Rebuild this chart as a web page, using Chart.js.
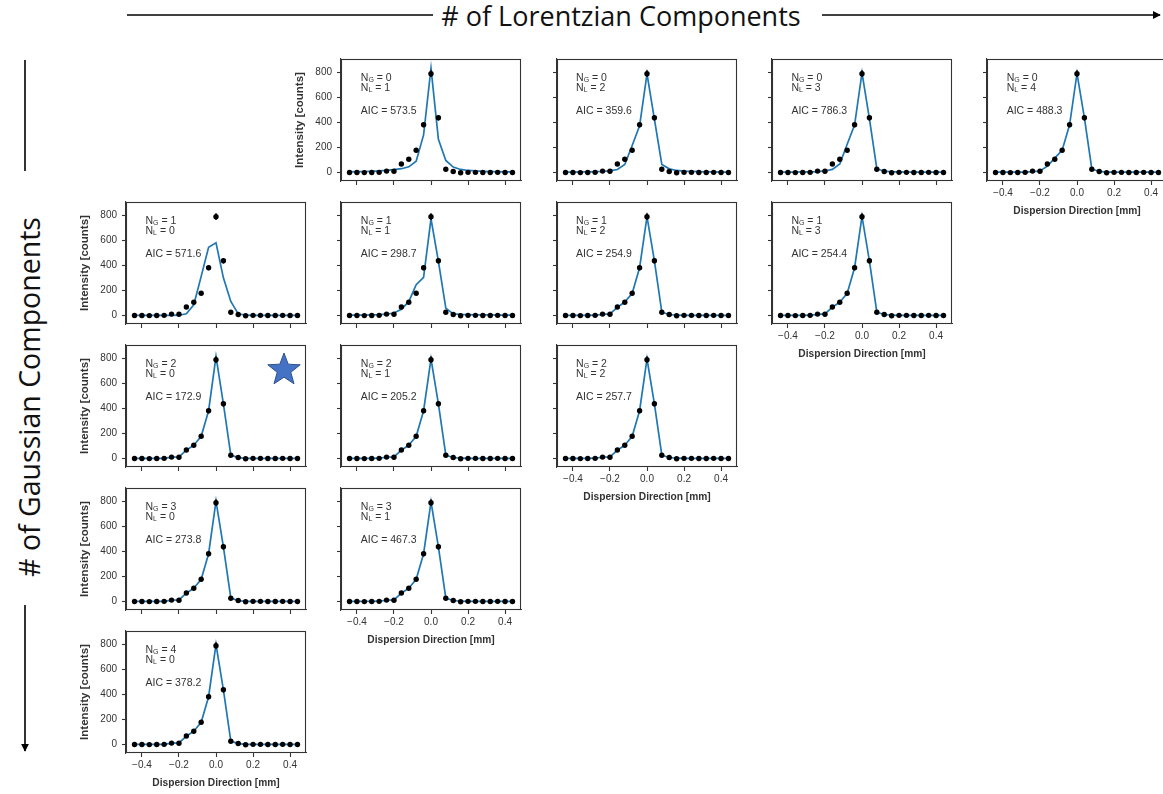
<!DOCTYPE html>
<html>
<head>
<meta charset="utf-8">
<script src="https://cdn.jsdelivr.net/npm/chart.js@4.4.1/dist/chart.umd.min.js"></script>
<style>
  html, body { margin: 0; padding: 0; background: #ffffff; }
  body { width: 1163px; height: 794px; position: relative; overflow: hidden; font-family: "Liberation Sans", Arial, sans-serif; }
  .panel { position: absolute; }
  .panel canvas { display: block; }
  .note { position: absolute; font-size: 10.5px; color: #333333; line-height: 10px; white-space: nowrap; pointer-events: none; }
  .note sub { font-size: 7px; vertical-align: -1px; line-height: 0; }
  .axis-title { position: absolute; font-family: "Open Sans", "Noto Sans", sans-serif; color: #111111; white-space: nowrap; line-height: 1; }
  svg.deco { position: absolute; left: 0; top: 0; pointer-events: none; }
</style>
</head>
<body>
<svg class="deco" width="1163" height="794" viewBox="0 0 1163 794">
  <defs>
    <marker id="arrow" viewBox="0 0 10 10" refX="9" refY="5" markerWidth="5" markerHeight="5" orient="auto">
      <path d="M0,0 L10,5 L0,10 z" fill="#000"/>
    </marker>
  </defs>
  <line x1="127" y1="15" x2="433" y2="15" stroke="#000" stroke-width="1.6"/>
  <line x1="822" y1="15" x2="1160" y2="15" stroke="#000" stroke-width="1.6" marker-end="url(#arrow)"/>
  <line x1="25" y1="60" x2="25" y2="171" stroke="#000" stroke-width="1.6"/>
  <line x1="25" y1="605" x2="25" y2="751" stroke="#000" stroke-width="1.6" marker-end="url(#arrow)"/>
  <polygon id="star" fill="#4472C4" stroke="#2F528F" stroke-width="1"
    points="284,353 288.2,364.2 300.2,364.8 290.8,372.3 294,383.8 284,377.2 274,383.8 277.2,372.3 267.8,364.8 279.8,364.2"/>
</svg>
<div class="axis-title" id="titleTop" style="left:621px; top:15px; font-size:27px; transform: translate(-50%, -50%);"># of Lorentzian Components</div>
<div class="axis-title" id="titleLeft" style="left:29px; top:397px; font-size:28.5px; transform: translate(-50%, -50%) rotate(-90deg);"># of Gaussian Components</div>

<script>
// Sample positions along the dispersion direction [mm]
const dispersionX = [-0.44, -0.40, -0.36, -0.32, -0.28, -0.24, -0.20, -0.16, -0.12, -0.08, -0.04,
                     0.00, 0.04, 0.08, 0.12, 0.16, 0.20, 0.24, 0.28, 0.32, 0.36, 0.40, 0.44];

// Measured intensity [counts] and its uncertainty
const measured = [0, 0, -1, 0, 1, 11, 10, 67, 106, 177, 381, 788, 436, 26, 8, -2, 1, 1, 0, 0, 1, 0, 0];
const measuredErr = [3, 3, 3, 3, 3, 4, 4, 8, 10, 13, 20, 27, 21, 5, 3, 3, 3, 3, 3, 3, 3, 3, 3];

// Best-fit model curves, one per (N_G, N_L) combination
const fitG0L1 = [5, 6, 7, 9, 12, 16, 22, 30, 45, 90, 300, 832, 264, 96, 43, 24, 16, 12, 9, 7, 6, 5, 4];
const fitG0L2 = [3, 3, 4, 5, 6, 8, 13, 24, 64, 215, 372, 786, 425, 64, 29, 16, 11, 8, 6, 5, 4, 3, 3];
const fitG0L3 = [3, 3, 3, 4, 4, 7, 12, 25, 68, 225, 380, 795, 430, 30, 10, 5, 4, 3, 3, 3, 3, 3, 3];
const fitG0L4 = [2, 2, 2, 2, 3, 6, 12, 50, 115, 178, 380, 790, 435, 28, 8, 3, 2, 2, 2, 2, 2, 2, 2];
const fitG1L0 = [0, 0, 0, 0, 0, 0, 2, 13, 85, 312, 544, 579, 300, 112, 13, 2, 0, 0, 0, 0, 0, 0, 0];
const fitG1L1 = [3, 3, 3, 4, 6, 10, 20, 50, 110, 245, 304, 771, 432, 59, 13, 8, 6, 5, 4, 4, 3, 3, 3];
const fitG1L2 = [1, 1, 1, 1, 2, 8, 12, 65, 107, 177, 381, 788, 436, 26, 8, 2, 1, 1, 1, 1, 1, 1, 1];
const fitG1L3 = [1, 1, 1, 1, 2, 9, 12, 66, 106, 177, 381, 790, 436, 26, 8, 2, 1, 1, 1, 1, 1, 1, 1];
const fitG2L0 = [0, 0, 0, 0, 1, 10, 12, 66, 106, 177, 381, 812, 435, 27, 7, 1, 0, 0, 0, 0, 0, 0, 0];
const fitG2L1 = [1, 1, 1, 1, 2, 10, 12, 66, 106, 177, 381, 795, 436, 26, 8, 2, 1, 1, 1, 1, 1, 1, 1];
const fitG2L2 = [1, 1, 1, 1, 2, 10, 12, 66, 106, 177, 381, 795, 436, 26, 8, 2, 1, 1, 1, 1, 1, 1, 1];
const fitG3L0 = [0, 0, 0, 0, 1, 10, 12, 66, 106, 177, 381, 800, 435, 27, 7, 1, 0, 0, 0, 0, 0, 0, 0];
const fitG3L1 = [1, 1, 1, 1, 2, 10, 12, 66, 106, 177, 381, 795, 436, 26, 8, 2, 1, 1, 1, 1, 1, 1, 1];
const fitG4L0 = [0, 0, 0, 0, 1, 10, 12, 66, 106, 177, 381, 798, 435, 27, 7, 1, 0, 0, 0, 0, 0, 0, 0];

// Model scores
const nGaussian   = [0, 0, 0, 0, 1, 1, 1, 1, 2, 2, 2, 3, 3, 4];
const nLorentzian = [1, 2, 3, 4, 0, 1, 2, 3, 0, 1, 2, 0, 1, 0];
const aicValues   = [573.5, 359.6, 786.3, 488.3, 571.6, 298.7, 254.9, 254.4, 172.9, 205.2, 257.7, 273.8, 467.3, 378.2];
const fitCurves   = [fitG0L1, fitG0L2, fitG0L3, fitG0L4, fitG1L0, fitG1L1, fitG1L2, fitG1L3,
                     fitG2L0, fitG2L1, fitG2L2, fitG3L0, fitG3L1, fitG4L0];

// Axis ticks
const yTicks = [0, 200, 400, 600, 800];
const xTicks = [-0.4, -0.2, 0.0, 0.2, 0.4];

const yLabel = 'Intensity [counts]';
const xLabel = 'Dispersion Direction [mm]';

// Grid geometry (plot-box placement)
const BOX_W = 180, BOX_H = 122;
const COL0 = 126, COL_STEP = 215.3;
const ROW0 = 58.5, ROW_STEP = 143;
const PAD_L = 62, PAD_T = 6, PAD_R = 6, PAD_B = 46;

const INK = '#333333';
const FIT_BLUE = '#1f77b4';

// Outline of the full plot box (all four spines)
const frame = {
  id: 'frame',
  afterDraw(chart) {
    const a = chart.chartArea, ctx = chart.ctx;
    ctx.save();
    ctx.strokeStyle = INK;
    ctx.lineWidth = 1.1;
    ctx.strokeRect(Math.round(a.left) + 0.5, Math.round(a.top) + 0.5,
                   Math.round(a.right - a.left) - 1, Math.round(a.bottom - a.top) - 1);
    ctx.restore();
  }
};

// Vertical error bars on the measured points
const errorBars = {
  id: 'errorBars',
  afterDatasetsDraw(chart) {
    const xs = chart.scales.x, ys = chart.scales.y, ctx = chart.ctx;
    ctx.save();
    ctx.strokeStyle = '#000';
    ctx.lineWidth = 1.5;
    ctx.beginPath();
    dispersionX.forEach((xv, i) => {
      const px = xs.getPixelForValue(xv);
      ctx.moveTo(px, ys.getPixelForValue(measured[i] - measuredErr[i]));
      ctx.lineTo(px, ys.getPixelForValue(measured[i] + measuredErr[i]));
    });
    ctx.stroke();
    ctx.restore();
  }
};

const fmtX = v => (v < 0 ? '\u2212' : '') + Math.abs(v).toFixed(1);

nGaussian.forEach((ng, k) => {
  const nl = nLorentzian[k];
  const boxLeft = COL0 + COL_STEP * nl;
  const boxTop = ROW0 + ROW_STEP * ng;
  const showY = (nl === 0) || (ng === 0 && nl === 1);
  const showX = (ng + nl === 4);

  const wrap = document.createElement('div');
  wrap.className = 'panel';
  wrap.style.left = (boxLeft - PAD_L) + 'px';
  wrap.style.top = (boxTop - PAD_T) + 'px';
  const W = PAD_L + BOX_W + PAD_R, H = PAD_T + BOX_H + PAD_B;
  wrap.style.width = W + 'px';
  wrap.style.height = H + 'px';
  const cv = document.createElement('canvas');
  cv.width = W; cv.height = H;
  wrap.appendChild(cv);
  document.body.appendChild(wrap);

  const note = document.createElement('div');
  note.className = 'note';
  note.style.left = (boxLeft + 19.5) + 'px';
  note.style.top = (boxTop + 13) + 'px';
  note.innerHTML = 'N<sub>G</sub> = ' + ng + '<br>N<sub>L</sub> = ' + nl +
                   '<br><div style="height:13px"></div>AIC = ' + aicValues[k].toFixed(1);
  document.body.appendChild(note);

  new Chart(cv, {
    type: 'line',
    data: {
      datasets: [
        {
          label: 'data',
          data: dispersionX.map((x, i) => ({ x, y: measured[i] })),
          showLine: false,
          pointRadius: 2.7,
          pointBackgroundColor: '#000',
          pointBorderColor: '#000',
          pointBorderWidth: 0,
          order: 0
        },
        {
          label: 'fit',
          data: dispersionX.map((x, i) => ({ x, y: fitCurves[k][i] })),
          borderColor: FIT_BLUE,
          borderWidth: 1.7,
          pointRadius: 0,
          tension: 0,
          fill: false,
          order: 1
        }
      ]
    },
    options: {
      responsive: false,
      animation: false,
      events: [],
      layout: { padding: { left: 0, top: PAD_T, right: PAD_R, bottom: 0 } },
      plugins: { legend: { display: false }, tooltip: { enabled: false } },
      scales: {
        x: {
          type: 'linear',
          min: -0.486, max: 0.486,
          afterBuildTicks: s => { s.ticks = xTicks.map(v => ({ value: v })); },
          afterFit: s => { s.height = PAD_B; s.paddingLeft = 0; s.paddingRight = 0; },
          grid: { drawOnChartArea: false, drawTicks: true, tickLength: 4, tickWidth: 1.1, tickColor: INK },
          border: { display: true, color: INK, width: 1.1 },
          ticks: { display: showX, color: INK, padding: 2.5, maxRotation: 0, autoSkip: false,
                   font: { family: 'Liberation Sans', size: 10 }, callback: v => fmtX(v) },
          title: { display: showX, text: xLabel, color: INK, padding: { top: 0, bottom: 10 },
                   font: { family: 'Liberation Sans', size: 10.2, weight: 'bold' } }
        },
        y: {
          type: 'linear',
          min: -68, max: 905,
          afterBuildTicks: s => { s.ticks = yTicks.map(v => ({ value: v })); },
          afterFit: s => { s.width = PAD_L; s.paddingTop = 0; s.paddingBottom = 0; },
          grid: { drawOnChartArea: false, drawTicks: true, tickLength: 4, tickWidth: 1.1, tickColor: INK },
          border: { display: true, color: INK, width: 1.1 },
          ticks: { display: showY, color: INK, padding: 5,
                   font: { family: 'Liberation Sans', size: 10 }, callback: v => String(v) },
          title: { display: showY, text: yLabel, color: INK, padding: { top: 14, bottom: 0 },
                   font: { family: 'Liberation Sans', size: 11.5, weight: 'bold' } }
        }
      }
    },
    plugins: [frame, errorBars]
  });
});
</script>
</body>
</html>
